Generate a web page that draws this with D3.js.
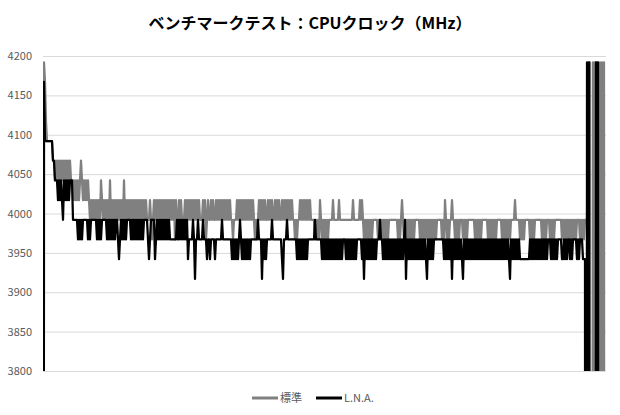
<!DOCTYPE html>
<html>
<head>
<meta charset="utf-8">
<script src="https://cdn.jsdelivr.net/npm/d3@7"></script>
<style>
    body { margin: 0; background: #fff; }
    svg { display: block; }
</style>
</head>
<body>
<svg id="chart" width="620" height="415"></svg>
<script>
// Data.
const title = 'ベンチマークテスト：CPUクロック（MHz）';
const seriesNames = ['標準', 'L.N.A.'];
const yTicks = [3800, 3850, 3900, 3950, 4000, 4050, 4100, 4150, 4200];

// 標準 (one sample per step, 20 per row)
const standard = [
    800, 4192, 4167, 4117, 4092, 4092, 4092, 4092, 4092, 4092, 4067, 4067, 4042, 4067, 4042, 4067, 4042, 4067, 4042, 4067,
    4042, 4067, 4042, 4067, 4042, 4067, 4042, 4067, 4042, 4042, 4017, 4042, 4017, 4042, 4017, 4042, 4017, 4042, 4067, 4042,
    4017, 4042, 4017, 4042, 4017, 4042, 4017, 3992, 4017, 3992, 4017, 3992, 4017, 3992, 4017, 3992, 4017, 3992, 4042, 4017,
    3992, 4017, 3992, 4017, 3992, 4017, 3992, 4042, 3992, 4017, 3992, 4017, 3992, 4017, 3992, 4017, 3992, 4017, 3992, 4017,
    3992, 4042, 3992, 4017, 3992, 4017, 3992, 4017, 3992, 4017, 3992, 4017, 3992, 4017, 3992, 4017, 3992, 4017, 3992, 4017,
    3992, 4017, 3992, 4017, 3992, 3992, 3992, 4017, 3992, 3967, 3992, 4017, 3992, 4017, 3992, 4017, 3992, 4017, 3992, 4017,
    3992, 4017, 3992, 4017, 3992, 4017, 3992, 4017, 3992, 4017, 3992, 4017, 3967, 4017, 3992, 3967, 4017, 3992, 4017, 3992,
    3992, 3992, 4017, 3992, 4017, 3992, 4017, 3992, 4017, 3992, 4017, 3992, 4017, 3992, 4017, 3992, 4017, 3992, 3992, 3992,
    4017, 3992, 4017, 3967, 3992, 4017, 3992, 3992, 4017, 3992, 4017, 3992, 3992, 4017, 3992, 4017, 3992, 4017, 3992, 4017,
    3992, 4017, 3992, 4017, 3992, 4017, 3992, 4017, 3992, 3992, 3967, 3992, 3992, 3992, 4017, 3992, 4017, 3992, 4017, 3992,
    4017, 3992, 4017, 3992, 4017, 3992, 4017, 3992, 4017, 3992, 4017, 3992, 3967, 3992, 3967, 3992, 4017, 3992, 4017, 3992,
    4017, 3992, 4017, 3992, 3992, 4017, 3992, 4017, 3992, 4017, 3992, 3992, 4017, 3992, 4017, 3992, 4017, 3992, 3992, 4017,
    3992, 4017, 3992, 4017, 3992, 4017, 3992, 4017, 3992, 4017, 3992, 3992, 3967, 3992, 3967, 3992, 3992, 4017, 3992, 4017,
    3992, 4017, 3992, 4017, 3992, 4017, 3992, 4017, 3992, 3992, 3992, 3992, 3967, 3992, 3967, 3992, 3967, 4017, 3992, 3967,
    3992, 3967, 3992, 3967, 3992, 3967, 3992, 3992, 3992, 3992, 4017, 3992, 3992, 3992, 3992, 3992, 4017, 3992, 3992, 3992,
    3992, 3992, 3992, 3992, 3992, 3992, 3992, 3992, 3992, 3992, 4017, 3992, 3992, 3992, 3992, 3992, 3992, 4017, 3992, 4017,
    3992, 3967, 3992, 3967, 3992, 3967, 3992, 3967, 3992, 3967, 3992, 3992, 3992, 3992, 3992, 3967, 3992, 3967, 3992, 3967,
    3992, 3967, 3992, 3967, 3992, 3967, 3992, 3992, 3992, 3992, 3992, 3992, 3992, 3992, 3992, 3967, 3992, 3967, 3992, 4017,
    3992, 3967, 3992, 3967, 3992, 3967, 3992, 3967, 3992, 3967, 3992, 3967, 3992, 3992, 3992, 3992, 3992, 3967, 3992, 3967,
    3992, 3967, 3992, 3967, 3992, 3967, 3992, 3967, 3992, 3967, 3992, 3967, 3992, 3967, 3992, 3992, 3992, 3992, 3992, 3967,
    3992, 3967, 4017, 3992, 3967, 3992, 3967, 3992, 3992, 4017, 3992, 3992, 3967, 3992, 3967, 3992, 3967, 3992, 3992, 3992,
    3967, 3992, 3967, 3992, 3967, 3992, 3992, 3992, 3992, 3992, 3992, 3992, 3967, 3992, 3967, 3992, 3967, 3992, 3967, 3992,
    3992, 3992, 3992, 3992, 3992, 3967, 3992, 3967, 3992, 3967, 3992, 3967, 3992, 3967, 3992, 3992, 3992, 3992, 3992, 3967,
    3992, 3967, 3992, 3967, 3992, 3967, 3992, 3967, 3992, 3992, 3992, 3992, 4017, 3992, 3992, 3992, 3992, 3967, 3992, 3967,
    3992, 3967, 3992, 3992, 3992, 3992, 3992, 3967, 3992, 3967, 3992, 3967, 3992, 3992, 3992, 3992, 3992, 3992, 3992, 3967,
    3992, 3967, 3992, 3967, 3992, 3992, 3992, 3967, 3992, 3967, 3992, 3967, 3992, 3992, 3992, 3992, 3992, 3992, 3992, 3967,
    3992, 3967, 3992, 3967, 3992, 3967, 3992, 3967, 3992, 3967, 3992, 3967, 3992, 3967, 3992, 3992, 3992, 3967, 3992, 3967,
    3992, 3967, 3992, 3992, 3992, 4117, 4192, 4192, 800, 800, 4192, 800, 4192, 800, 4192, 800, 800, 4192, 800, 4192,
    800, 4192, 800
];

// L.N.A.
const lna = [
    800, 4167, 4092, 4092, 4092, 4092, 4092, 4092, 4092, 4092, 4067, 4067, 4042, 4042, 4042, 4017, 4042, 4017, 4042, 4017,
    3992, 4042, 4017, 4042, 4017, 4042, 4017, 4042, 4042, 4042, 3992, 3992, 3992, 3992, 3992, 3967, 3992, 3967, 3992, 3967,
    3992, 3992, 3992, 3992, 3992, 3967, 3992, 3967, 3992, 3992, 3992, 3992, 3992, 3992, 3967, 3992, 3967, 3992, 3967, 3992,
    3992, 3992, 3992, 3992, 3967, 3992, 3967, 3992, 3967, 3992, 3967, 3992, 3967, 3992, 3992, 3967, 3942, 3967, 3992, 3967,
    3992, 3967, 3992, 3967, 3992, 3992, 3992, 3992, 3967, 3992, 3967, 3992, 3967, 3992, 3967, 3992, 3967, 3992, 3967, 3992,
    3967, 3992, 3992, 3992, 3992, 3967, 3942, 3967, 3992, 3992, 3992, 3992, 3942, 3967, 3992, 3967, 3992, 3967, 3992, 3967,
    3992, 3967, 3992, 3967, 3992, 3967, 3992, 3967, 3967, 3967, 3967, 3967, 3967, 3967, 3992, 3967, 3992, 3967, 3992, 3967,
    3992, 3967, 3992, 3967, 3992, 3942, 3967, 3967, 3967, 3967, 3992, 3967, 3917, 3967, 3967, 3992, 3967, 3967, 3967, 3967,
    3992, 3967, 3967, 3967, 3942, 3967, 3967, 3942, 3967, 3967, 3967, 3967, 3942, 3967, 3967, 3967, 3967, 3967, 3967, 3992,
    3967, 3967, 3967, 3967, 3967, 3967, 3967, 3967, 3967, 3942, 3967, 3942, 3967, 3942, 3967, 3942, 3967, 3992, 3967, 3942,
    3967, 3942, 3967, 3942, 3967, 3942, 3967, 3942, 3967, 3967, 3967, 3967, 3967, 3967, 3967, 3992, 3967, 3967, 3967, 3917,
    3967, 3942, 3967, 3942, 3967, 3967, 3967, 3967, 3967, 3992, 3967, 3967, 3967, 3967, 3967, 3967, 3967, 3967, 3967, 3942,
    3917, 3967, 3967, 3967, 3992, 3967, 3967, 3967, 3967, 3967, 3967, 3967, 3967, 3967, 3942, 3967, 3942, 3967, 3942, 3967,
    3942, 3967, 3942, 3967, 3942, 3967, 3967, 3967, 3967, 3967, 3967, 3967, 3992, 3967, 3967, 3967, 3967, 3967, 3967, 3942,
    3967, 3942, 3967, 3942, 3967, 3942, 3967, 3942, 3967, 3942, 3967, 3942, 3967, 3942, 3967, 3942, 3967, 3942, 3967, 3942,
    3967, 3967, 3967, 3942, 3967, 3942, 3967, 3942, 3967, 3942, 3967, 3942, 3967, 3942, 3967, 3967, 3967, 3967, 3967, 3942,
    3967, 3917, 3967, 3942, 3967, 3942, 3967, 3942, 3967, 3942, 3967, 3942, 3967, 3942, 3967, 3967, 3967, 3992, 3967, 3967,
    3942, 3967, 3942, 3967, 3942, 3967, 3942, 3967, 3942, 3967, 3942, 3967, 3942, 3967, 3942, 3967, 3942, 3967, 3942, 3967,
    3942, 3967, 3992, 3917, 3967, 3942, 3967, 3942, 3967, 3942, 3967, 3942, 3967, 3942, 3967, 3942, 3967, 3942, 3967, 3942,
    3967, 3942, 3967, 3942, 3917, 3967, 3942, 3967, 3942, 3967, 3942, 3967, 3967, 3967, 3967, 3967, 3967, 3967, 3967, 3967,
    3967, 3942, 3967, 3942, 3967, 3942, 3967, 3942, 3967, 3917, 3967, 3942, 3967, 3942, 3967, 3942, 3967, 3942, 3967, 3942,
    3917, 3967, 3942, 3967, 3942, 3967, 3942, 3967, 3942, 3967, 3942, 3967, 3942, 3967, 3942, 3967, 3942, 3967, 3942, 3967,
    3942, 3967, 3942, 3967, 3942, 3967, 3942, 3967, 3942, 3967, 3942, 3967, 3942, 3967, 3942, 3967, 3942, 3967, 3942, 3967,
    3942, 3967, 3942, 3967, 3942, 3967, 3942, 3917, 3967, 3942, 3967, 3942, 3967, 3942, 3967, 3942, 3967, 3942, 3942, 3942,
    3942, 3942, 3942, 3942, 3942, 3942, 3942, 3967, 3942, 3967, 3942, 3967, 3942, 3967, 3942, 3967, 3942, 3967, 3942, 3967,
    3942, 3967, 3942, 3967, 3942, 3967, 3967, 3967, 3942, 3967, 3942, 3967, 3942, 3967, 3942, 3967, 3967, 3967, 3967, 3942,
    3942, 3967, 3942, 3967, 3942, 3967, 3967, 3942, 3967, 3942, 3967, 3967, 3967, 3967, 3942, 3967, 3942, 3967, 3967, 3967,
    3942, 3942, 3942, 800, 4192, 800, 4192, 800, 800, 800, 800, 800, 800, 4192, 800, 4192, 800, 800, 800, 800,
    800, 800, 800
];

const colors = ['#808080', '#000000'];
const FONT = '"Noto Sans CJK JP", "Noto Sans", sans-serif';

const svg = d3.select('#chart');
const plot = {left: 43, right: 606, top: 56, bottom: 371};

const x = d3.scaleLinear().domain([0, standard.length]).range([plot.left, plot.right]);
const y = d3.scaleLinear().domain([3800, 4200]).range([plot.bottom, plot.top]);

// Title.
svg.append('text')
    .attr('x', 310)
    .attr('y', 29)
    .attr('text-anchor', 'middle')
    .style('font-family', FONT)
    .style('font-size', '16px')
    .style('font-weight', 'bold')
    .attr('fill', '#000')
    .text(title);

// Gridlines + y labels.
const yAxis = d3.axisLeft(y)
    .tickValues(yTicks)
    .tickFormat(d3.format('d'))
    .tickSize(-(plot.right - plot.left))
    .tickPadding(11);
const gy = svg.append('g')
    .attr('transform', `translate(${plot.left},0)`)
    .call(yAxis);
gy.select('.domain').remove();
gy.selectAll('.tick line').attr('stroke', '#d9d9d9').attr('stroke-width', 1);
gy.selectAll('.tick text')
    .attr('fill', '#595959')
    .style('font-family', FONT)
    .style('font-size', '11px');

// Clip to plot area.
svg.append('clipPath').attr('id', 'plot-clip')
    .append('rect')
    .attr('x', plot.left)
    .attr('y', plot.top - 4)
    .attr('width', plot.right - plot.left)
    .attr('height', plot.bottom - plot.top + 4);

const line = d3.line()
    .x((d, i) => x(i))
    .y(d => y(d));

const lines = svg.append('g').attr('clip-path', 'url(#plot-clip)');
[standard, lna].forEach((data, k) => {
    lines.append('path')
        .datum(data)
        .attr('fill', 'none')
        .attr('stroke', colors[k])
        .attr('stroke-width', 2.25)
        .attr('stroke-linejoin', 'round')
        .attr('d', line);
});

// Legend.
const legendX = [252, 316];
const legend = svg.append('g');
seriesNames.forEach((name, k) => {
    legend.append('line')
        .attr('x1', legendX[k]).attr('x2', legendX[k] + 26)
        .attr('y1', 398).attr('y2', 398)
        .attr('stroke', colors[k])
        .attr('stroke-width', 3);
    legend.append('text')
        .attr('x', legendX[k] + 28)
        .attr('y', 402)
        .attr('fill', '#595959')
        .style('font-family', FONT)
        .style('font-size', '11px')
        .text(name);
});
</script>
</body>
</html>
